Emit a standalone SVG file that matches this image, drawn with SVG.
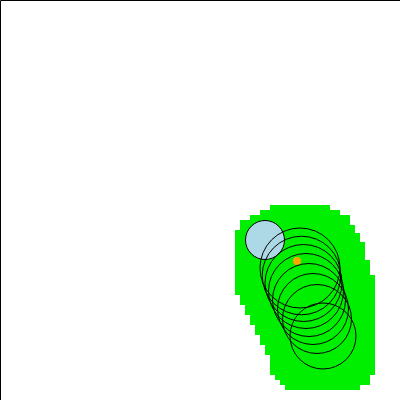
<svg xmlns="http://www.w3.org/2000/svg" width="400" height="400" viewBox="0 0 400 400">
<style>
.trace{fill:none;stroke:#000;stroke-width:1}
</style>
<rect width="400" height="400" fill="#fff"/>
<path d="M0.5,400 V0.5 H400" fill="none" stroke="#000" stroke-width="1"/>
<polygon fill="#00ee00" points="270,205 330,205 330,210 340,210 340,215 350,215 350,225 355,225 355,233 360,233 360,242 365,242 365,260 370,260 370,275 375,275 375,375 370,375 370,385 360,385 360,390 285,390 285,385 280,385 280,380 275,380 275,375 270,375 270,355 265,355 265,345 260,345 260,335 255,335 255,325 250,325 250,315 245,315 245,305 240,305 240,295 235,295 235,230 240,230 240,220 250,220 250,215 260,215 260,210 270,210"/>
<circle cx="265" cy="240" r="19.5" fill="#add8e6" stroke="#000" stroke-width="1"/>
<circle cx="297" cy="261" r="4" fill="#ffa500"/>
<g id="traces">
<circle class="trace" cx="300" cy="268" r="40"/>
<circle class="trace" cx="301.5" cy="275.5" r="39.3"/>
<circle class="trace" cx="303.5" cy="283" r="38.5"/>
<circle class="trace" cx="306" cy="291" r="37.5"/>
<circle class="trace" cx="309" cy="300" r="36.5"/>
<circle class="trace" cx="313" cy="309" r="35.5"/>
<circle class="trace" cx="317" cy="319" r="34.5"/>
<circle class="trace" cx="323" cy="336" r="33"/>
</g>
</svg>
